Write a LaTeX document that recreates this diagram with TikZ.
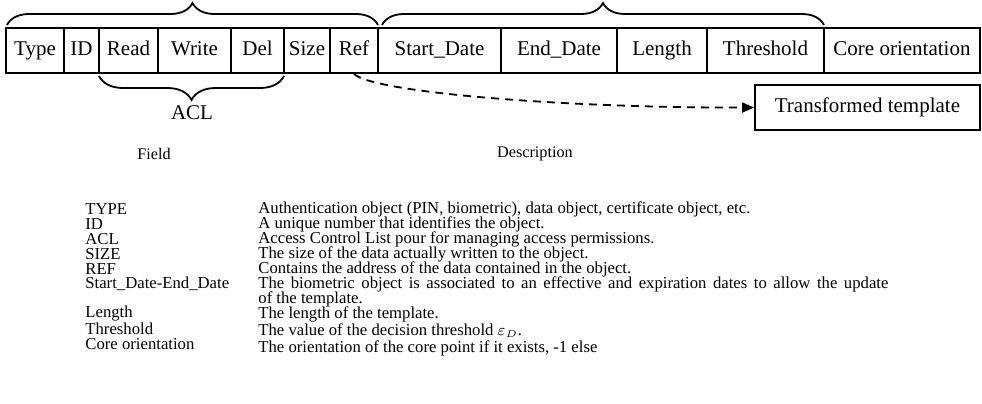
\documentclass[tikz,border=0pt]{standalone}
\usepackage{fontspec}
\setmainfont{Liberation Serif}
\usetikzlibrary{arrows.meta,decorations.pathreplacing}

\begin{document}
\begin{tikzpicture}[x=0.5pt,y=0.5pt,yscale=-1,xscale=1,
  cell/.style={draw,line width=0.9pt,minimum height=22.5pt,inner sep=0pt,
    text height=7.4pt,text depth=2.2pt,font=\fontsize{10.5}{12}\selectfont},
  brc/.style={decorate,decoration={brace,amplitude=#1},line width=0.9pt},
  lbl/.style={inner sep=0pt,font=\fontsize{10.5}{12}\selectfont},
  head/.style={inner sep=0pt,font=\fontsize{8.1}{9}\selectfont},
  txt/.style={anchor=west,inner sep=0pt,font=\fontsize{8.35}{9}\selectfont}]
%uncomment if require: \path (0,403); %set diagram left start at 0, and has height of 403
\useasboundingbox (0,0) rectangle (982,403);

%Shape: Record cells
\node[cell,minimum width=29pt]   (type)   at (35,50.5)    {Type};
\node[cell,minimum width=17.5pt] (id)     at (81.5,50.5)  {ID};
\node[cell,minimum width=29.5pt] (read)   at (128.5,50.5) {Read};
\node[cell,minimum width=36.5pt] (write)  at (194.5,50.5) {Write};
\node[cell,minimum width=26.5pt] (del)    at (257.5,50.5) {Del};
\node[cell,minimum width=23pt]   (size)   at (307,50.5)   {Size};
\node[cell,minimum width=24pt]   (ref)    at (354,50.5)   {Ref};
\node[cell,minimum width=61.5pt] (start)  at (439.5,50.5) {Start\_Date};
\node[cell,minimum width=58pt]   (end)    at (559,50.5)   {End\_Date};
\node[cell,minimum width=45pt]   (length) at (662,50.5)   {Length};
\node[cell,minimum width=58.5pt] (thres)  at (765.5,50.5) {Threshold};
\node[cell,minimum width=78pt]   (core)   at (902,50.5)   {Core orientation};

%Shape: Rectangle
\node[cell,minimum width=112.5pt] (tmpl) at (867.5,107.5) {Transformed template};

%Shape: Braces
\draw[brc=11pt] (7,25) -- (378,25) ;
\draw[brc=11pt] (382,25) -- (824,25) ;
\draw[brc=12pt] (284,76) -- (99,76) ;

% Text Node
\node[lbl] (acl) at (192,113) {ACL};

%Curve Lines
\draw[line width=0.9pt,dash pattern=on 4pt off 3pt,-{Triangle[length=6pt,width=5pt]}]
  (ref.south) .. controls (372,92) and (560,108) .. (tmpl.west) ;

% Text Node
\node[head] (field) at (154,154) {Field};
% Text Node
\node[head] (descr) at (535,154) {Description};

% Table: field names
\node[txt] (fType)  at (85,209) {TYPE};
\node[txt] (fId)    at (85,224) {ID};
\node[txt] (fAcl)   at (85,239) {ACL};
\node[txt] (fSize)  at (85,254) {SIZE};
\node[txt] (fRef)   at (85,269) {REF};
\node[txt] (fDate)  at (85,284) {Start\_Date-End\_Date};
\node[txt] (fLen)   at (85,314) {Length};
\node[txt] (fThres) at (85,329) {Threshold};
\node[txt] (fCore)  at (85,344) {Core orientation};

% Table: descriptions
\node[txt] (dType)  at (258,209) {Authentication object (PIN, biometric), data object, certificate object, etc.};
\node[txt] (dId)    at (258,224) {A unique number that identifies the object.};
\node[txt] (dAcl)   at (258,239) {Access Control List pour for managing access permissions.};
\node[txt] (dSize)  at (258,254) {The size of the data actually written to the object.};
\node[txt] (dRef)   at (258,269) {Contains the address of the data contained in the object.};
\node[txt] (dDate)  at (258,284) {\hbox to 315pt{The biometric object is associated to an effective and expiration dates to allow the update}};
\node[txt] (dDate2) at (258,299) {of the template.};
\node[txt] (dLen)   at (258,314) {The length of the template.};
\node[txt] (dThres) at (258,331) {The value of the decision threshold $\varepsilon_{\scriptscriptstyle D}$.};
\node[txt] (dCore)  at (258,348) {The orientation of the core point if it exists, -1 else};
\end{tikzpicture}
\end{document}
